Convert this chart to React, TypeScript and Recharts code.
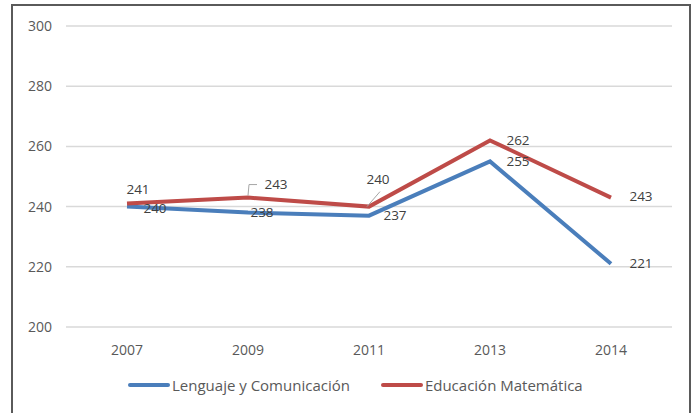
import React from 'react';
import { LineChart, Line, XAxis, YAxis, CartesianGrid, LabelList } from 'recharts';

const years = ['2007', '2009', '2011', '2013', '2014'];
const lenguaje = [240, 238, 237, 255, 221];
const matematica = [241, 243, 240, 262, 243];
const yTicks = [200, 220, 240, 260, 280, 300];

const data = years.map((y, i) => ({ year: y, lenguaje: lenguaje[i], matematica: matematica[i] }));

const BLUE = '#4a7ebb';
const RED = '#be4b48';
const FONT = '"Open Sans", "Liberation Sans", sans-serif';

const blueOffsets = [[28, 1], [14, -1], [26, -1], [28, 0], [30, -1]];
const redOffsets = [[11, -15], [28, -14], [9, -28], [28, 0], [30, -2]];

const makeLabel = (offsets: number[][], leaders: boolean) => (props: any) => {
  const { x, y, value, index } = props;
  const [dx, dy] = offsets[index];
  const tx = x + dx;
  const ty = y + dy;
  let leader = null;
  if (leaders && index === 1) {
    leader = <polyline points={`${x},${y - 2} ${x + 1},${y - 13} ${x + 9},${y - 13}`} fill="none" stroke="#a6a6a6" strokeWidth={1} />;
  }
  if (leaders && index === 2) {
    leader = <polyline points={`${x - 2},${y} ${x + 11},${y - 15}`} fill="none" stroke="#a6a6a6" strokeWidth={1} />;
  }
  return (
    <g>
      {leader}
      <text x={tx} y={ty} textAnchor="middle" dominantBaseline="central" fontSize={13.5} fill="#404040" fontFamily={FONT}>
        {value}
      </text>
    </g>
  );
};

const LegendBox = () => (
  <div style={{ position: 'absolute', left: 128, top: 375, display: 'flex', alignItems: 'center', fontFamily: FONT, fontSize: 15, color: '#595959', whiteSpace: 'nowrap', lineHeight: '20px' }}>
    <svg width={42} height={6}><line x1={2} y1={3} x2={40} y2={3} stroke={BLUE} strokeWidth={4} strokeLinecap="round" /></svg>
    <span style={{ marginLeft: 2 }}>Lenguaje y Comunicación</span>
    <svg width={42} height={6} style={{ marginLeft: 31 }}><line x1={2} y1={3} x2={40} y2={3} stroke={RED} strokeWidth={4} strokeLinecap="round" /></svg>
    <span style={{ marginLeft: 2 }}>Educación Matemática</span>
  </div>
);

export default function App() {
  return (
    <div style={{ position: 'absolute', left: 0, top: 0, width: 695, height: 413, background: '#fff', overflow: 'hidden' }}>
      <div style={{ position: 'absolute', left: 11, top: 4, width: 680, height: 440, border: '2px solid #5a5a5a', boxSizing: 'border-box' }} />
      <div style={{ position: 'absolute', left: 0, top: 0 }}>
        <LineChart width={695} height={413} data={data} margin={{ top: 26, right: 23, left: 0, bottom: 56 }}>
          <CartesianGrid vertical={false} stroke="#d9d9d9" strokeWidth={1.5} />
          <XAxis
            dataKey="year"
            axisLine={false}
            tickLine={false}
            height={30}
            tickMargin={12}
            padding={{ left: 61, right: 61 }}
            tick={{ fill: '#595959', fontSize: 14, fontFamily: FONT }}
          />
          <YAxis
            domain={[200, 300]}
            ticks={yTicks}
            axisLine={false}
            tickLine={false}
            width={66}
            tickMargin={8}
            tick={{ fill: '#595959', fontSize: 14, fontFamily: FONT }}
          />
          <Line type="linear" dataKey="lenguaje" name="Lenguaje y Comunicación" stroke={BLUE} strokeWidth={4} dot={false} isAnimationActive={false}>
            <LabelList dataKey="lenguaje" content={makeLabel(blueOffsets, false)} />
          </Line>
          <Line type="linear" dataKey="matematica" name="Educación Matemática" stroke={RED} strokeWidth={4} dot={false} isAnimationActive={false}>
            <LabelList dataKey="matematica" content={makeLabel(redOffsets, true)} />
          </Line>
        </LineChart>
      </div>
      <LegendBox />
    </div>
  );
}
